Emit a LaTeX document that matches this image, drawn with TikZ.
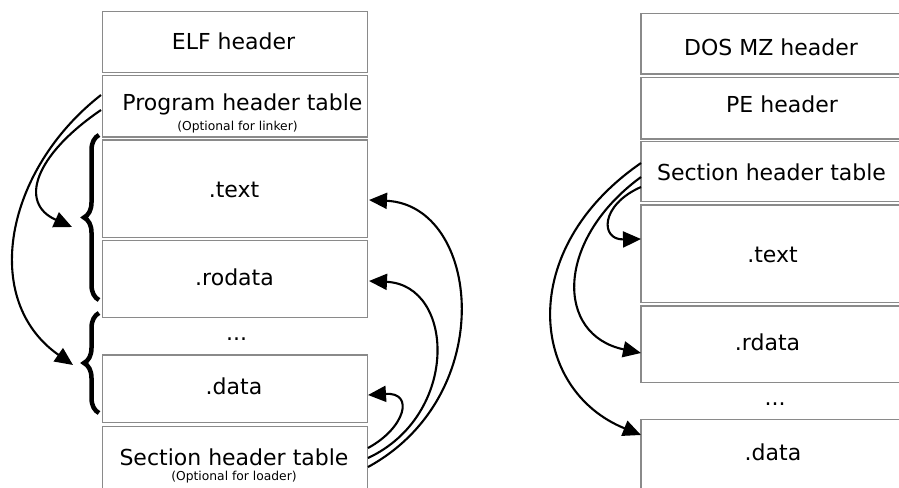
\documentclass[tikz,border=0pt]{standalone}
\usepackage{fontspec}
\setmainfont{DejaVu Sans}
\usetikzlibrary{arrows.meta,decorations.pathreplacing}
\definecolor{boxgray}{HTML}{8A8A8A}
\begin{document}
\begin{tikzpicture}[x=1pt,y=-1pt,
 box/.style={draw=boxgray, line width=1.2pt, rectangle, anchor=north west, inner sep=0pt, outer sep=0pt},
 lbl/.style={anchor=base, inner sep=0pt, font=\fontsize{22}{26}\selectfont},
 sml/.style={anchor=base, inner sep=0pt, font=\fontsize{12.3}{14}\selectfont},
 link/.style={line width=2.1pt, -{Triangle[length=18pt,width=16pt]}},
 brc/.style={decorate, decoration={brace, amplitude=15pt}, line width=4.5pt}]
\useasboundingbox (0,0) rectangle (899,487);
\begin{scope}
\clip (0,0) rectangle (899,487);
% left column (ELF)
\node[box, minimum width=265.2pt, minimum height=61pt] (elf) at (102.5,11.3) {};
\node[box, minimum width=265.2pt, minimum height=61.7pt] (pht) at (102.5,75.3) {};
\node[box, minimum width=265.2pt, minimum height=97.3pt] (ltext) at (102.5,140) {};
\node[box, minimum width=265.2pt, minimum height=76.6pt] (lrodata) at (102.5,240.7) {};
\node[box, minimum width=265.2pt, minimum height=67.3pt] (ldata) at (102.5,355) {};
\node[box, minimum width=265.2pt, minimum height=80pt] (lsht) at (102.5,426.7) {};
\node[lbl] (t1) at (233.5,49.5) {ELF header};
\node[lbl] (t2) at (242.5,110) {Program header table};
\node[sml] (t3) at (237.5,130) {(Optional for linker)};
\node[lbl] (t4) at (234,197) {.text};
\node[lbl] (t5) at (234.5,285) {.rodata};
\node[lbl] (t6) at (236.5,340) {...};
\node[lbl] (t7) at (234,394) {.data};
\node[lbl] (t8) at (234,465) {Section header table};
\node[sml] (t9) at (234,480.5) {(Optional for loader)};
% right column (PE)
\node[box, minimum width=262pt, minimum height=60.7pt] (dos) at (641,13.3) {};
\node[box, minimum width=262pt, minimum height=61.7pt] (pe) at (641,77.3) {};
\node[box, minimum width=262pt, minimum height=60.4pt] (rsht) at (641,141.3) {};
\node[box, minimum width=262pt, minimum height=97.7pt] (rtext) at (641,205) {};
\node[box, minimum width=262pt, minimum height=76.3pt] (rrdata) at (641,306) {};
\node[box, minimum width=262pt, minimum height=80pt] (rdata) at (641,419.3) {};
\node[lbl] (u1) at (771,55.5) {DOS MZ header};
\node[lbl] (u2) at (782,112.7) {PE header};
\node[lbl] (u3) at (771.5,180) {Section header table};
\node[lbl] (u4) at (772.5,262.7) {.text};
\node[lbl] (u5) at (767.5,350.7) {.rdata};
\node[lbl] (u6) at (775,405.7) {...};
\node[lbl] (u7) at (773,460) {.data};
\end{scope}
% braces
\coordinate (b1top) at (99,135);
\coordinate (b1bot) at (99,300);
\coordinate (b2top) at (99,313);
\coordinate (b2bot) at (99,413);
\draw[brc] (b1bot) -- (b1top);
\draw[brc] (b2bot) -- (b2top);
% left arrows from program header table
\coordinate (pa) at (101,95);
\coordinate (pb) at (101,110);
\coordinate (tip1) at (72,227);
\coordinate (tip2) at (73,365);
\draw[link] (pb) .. controls (35,155) and (18,203) .. (tip1);
\draw[link] (pa) .. controls (5,170) and (-20,300) .. (tip2);
% arrows from ELF section header table
\coordinate (sa) at (368,448);
\coordinate (sb) at (368,458);
\coordinate (sc) at (368,467);
\coordinate (e1) at (369,200);
\coordinate (e2) at (369,281);
\coordinate (e3) at (368,395);
\draw[link] (sc) .. controls (500,395) and (480,205) .. (e1);
\draw[link] (sb) .. controls (460,415) and (455,285) .. (e2);
\draw[link] (sa) .. controls (405,428) and (415,392) .. (e3);
% arrows from PE section header table
\coordinate (ra) at (641,163);
\coordinate (rb) at (641,177);
\coordinate (rc) at (641,187);
\coordinate (f1) at (641,239);
\coordinate (f2) at (641,353);
\coordinate (f3) at (641,435);
\draw[link] (rc) .. controls (600,205) and (600,240) .. (f1);
\draw[link] (rb) .. controls (555,240) and (555,335) .. (f2);
\draw[link] (ra) .. controls (515,250) and (530,390) .. (f3);
\end{tikzpicture}
\end{document}
